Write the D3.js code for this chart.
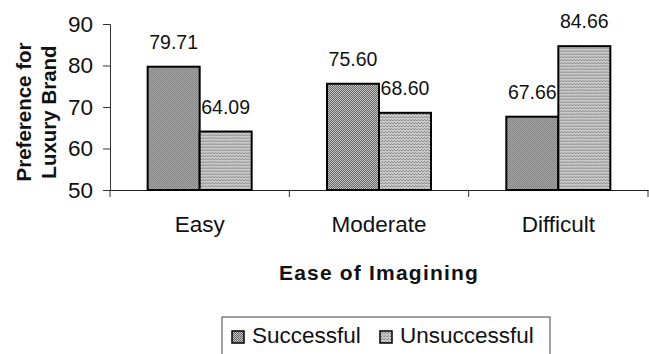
<!DOCTYPE html>
<html>
<head>
<meta charset="utf-8">
<script src="https://cdn.jsdelivr.net/npm/d3@7"></script>
<style>
  html, body { margin: 0; padding: 0; background: #fff; }
  svg { display: block; font-family: "Liberation Sans", Arial, sans-serif; }
</style>
</head>
<body>
<svg id="chart" width="649" height="354"></svg>
<script>
const categories = ["Easy", "Moderate", "Difficult"];
const seriesNames = ["Successful", "Unsuccessful"];
const successful = [79.71, 75.60, 67.66];
const unsuccessful = [64.09, 68.60, 84.66];
const yTicks = [50, 60, 70, 80, 90];
const yTitle = ["Preference for", "Luxury Brand"];
const xTitle = "Ease of Imagining";

(function () {
const seriesValues = [successful, unsuccessful];
const rows = categories.map((c, i) => ({
  cat: c,
  vals: seriesNames.map((s, j) => ({ series: s, value: seriesValues[j][i] }))
}));

const svg = d3.select("#chart");
const W = 649, H = 354;
const mLeft = 110, mRight = 648, mTop = 24, mBottom = 190;

svg.append("rect").attr("width", W).attr("height", H).attr("fill", "#fff");

// patterns
const defs = svg.append("defs");
const p1 = defs.append("pattern").attr("id", "pat0").attr("width", 2).attr("height", 2)
  .attr("patternUnits", "userSpaceOnUse");
p1.append("rect").attr("width", 2).attr("height", 2).attr("fill", "#c4c4c4");
p1.append("rect").attr("width", 1).attr("height", 1).attr("fill", "#666");
p1.append("rect").attr("x", 1).attr("y", 1).attr("width", 1).attr("height", 1).attr("fill", "#666");
const p2 = defs.append("pattern").attr("id", "pat1").attr("width", 3).attr("height", 3)
  .attr("patternUnits", "userSpaceOnUse");
p2.append("rect").attr("width", 3).attr("height", 3).attr("fill", "#cacaca");
p2.append("rect").attr("width", 1).attr("height", 1).attr("fill", "#888");
p2.append("rect").attr("x", 2).attr("y", 0).attr("width", 1).attr("height", 1).attr("fill", "#999");
p2.append("rect").attr("x", 1).attr("y", 2).attr("width", 1).attr("height", 1).attr("fill", "#8c8c8c");
const fills = { "Successful": "url(#pat0)", "Unsuccessful": "url(#pat1)" };

const y = d3.scaleLinear().domain([50, 90]).range([mBottom, mTop]);
const x0 = d3.scaleBand().domain(categories).range([mLeft, mRight])
  .paddingInner(0.42).paddingOuter(0.21);
const xAxisScale = d3.scaleBand().domain(categories).range([mLeft, mRight]);
const x1 = d3.scaleBand().domain(seriesNames).range([0, x0.bandwidth()]);

// Y axis
const yAxis = svg.append("g").attr("transform", `translate(${mLeft},0)`)
  .call(d3.axisLeft(y).tickValues(yTicks).tickSize(7).tickPadding(10).tickFormat(d3.format("d")));
yAxis.select(".domain").attr("stroke", "#333").attr("stroke-width", 1);
yAxis.selectAll(".tick line").attr("stroke", "#333");
yAxis.selectAll(".tick text").attr("font-size", 22.5).attr("fill", "#111")
  .attr("font-family", "'Liberation Sans', Arial, sans-serif");

// X axis
const xAxis = svg.append("g").attr("transform", `translate(0,${mBottom})`)
  .call(d3.axisBottom(xAxisScale).tickSize(0).tickPadding(26));
xAxis.select(".domain").attr("stroke", "#222").attr("stroke-width", 1.2);
xAxis.selectAll(".tick text").attr("font-size", 22.5).attr("fill", "#111")
  .attr("font-family", "'Liberation Sans', Arial, sans-serif");
const bounds = categories.map(c => xAxisScale(c)).concat([xAxisScale(categories[categories.length - 1]) + xAxisScale.step()]);
svg.append("g").selectAll("line").data(bounds).join("line")
  .attr("x1", d => d).attr("x2", d => d)
  .attr("y1", mBottom).attr("y2", mBottom + 7)
  .attr("stroke", "#333").attr("stroke-width", 1);

// Bars
const groups = svg.append("g").selectAll("g").data(rows).join("g")
  .attr("transform", d => `translate(${x0(d.cat)},0)`);
groups.selectAll("rect").data(d => d.vals).join("rect")
  .attr("x", d => x1(d.series))
  .attr("y", d => y(d.value))
  .attr("width", x1.bandwidth())
  .attr("height", d => y(50) - y(d.value))
  .attr("fill", d => fills[d.series])
  .attr("stroke", "#000").attr("stroke-width", 2);
groups.selectAll("text").data(d => d.vals).join("text")
  .attr("x", d => x1(d.series) + x1.bandwidth() / 2)
  .attr("y", d => y(d.value) - 18)
  .attr("text-anchor", "middle")
  .attr("font-size", 19.5).attr("fill", "#111")
  .text(d => d.value.toFixed(2));

// Axis titles
svg.append("text")
  .attr("x", (mLeft + mRight) / 2).attr("y", 280)
  .attr("text-anchor", "middle").attr("font-size", 21).attr("font-weight", "bold")
  .attr("letter-spacing", 1.2).attr("fill", "#111")
  .text(xTitle);
const yt = svg.append("text")
  .attr("transform", "translate(31,112) rotate(-90)")
  .attr("text-anchor", "middle").attr("font-size", 20.5).attr("font-weight", "bold").attr("fill", "#111");
yt.selectAll("tspan").data(yTitle).join("tspan")
  .attr("x", 0).attr("dy", (d, i) => i === 0 ? 0 : 25)
  .text(d => d);

// Legend
const lg = svg.append("g");
lg.append("rect").attr("x", 222).attr("y", 317).attr("width", 328).attr("height", 60)
  .attr("fill", "none").attr("stroke", "#444").attr("stroke-width", 1);
const legendX = [232, 380];
seriesNames.forEach((s, i) => {
  lg.append("rect").attr("x", legendX[i]).attr("y", 331).attr("width", 12).attr("height", 12)
    .attr("fill", fills[s]).attr("stroke", "#000").attr("stroke-width", 1.5);
  lg.append("text").attr("x", legendX[i] + 20).attr("y", 343)
    .attr("font-size", 22.5).attr("fill", "#111").text(s);
});
})();
</script>
</body>
</html>
